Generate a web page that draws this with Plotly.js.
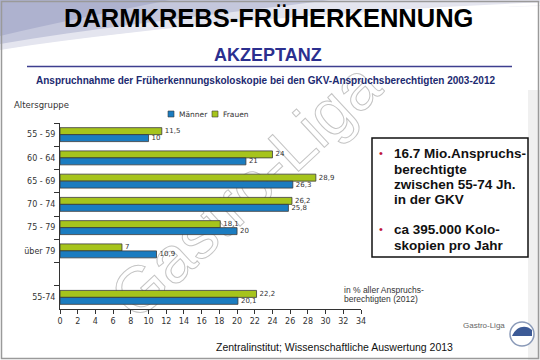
<!DOCTYPE html>
<html>
<head>
<meta charset="utf-8">
<script src="https://cdn.plot.ly/plotly-3.0.1.min.js"></script>
<style>html,body{margin:0;padding:0;background:#fff}#chart{width:540px;height:360px}</style>
</head>
<body>
<div id="chart"></div>
<script>
// ---- data ----
const categories = ['55 - 59', '60 - 64', '65 - 69', '70 - 74', '75 - 79', 'über 79', '\u00a0', '55-74'];
const frauen = [11.5, 24, 28.9, 26.2, 18.1, 7, null, 22.2];
const maenner = [10, 21, 26.3, 25.8, 20, 10.9, null, 20.1];
const seriesNames = ['Männer', 'Frauen'];
const xTicks = [0, 2, 4, 6, 8, 10, 12, 14, 16, 18, 20, 22, 24, 26, 28, 30, 32, 34];

const fmt = v => (v === null ? '' : String(v).replace('.', ','));

// ---- pixel helpers (plot area: x 60..361, y 123..309) ----
const L = 60, R = 361, T = 123, B = 309;
const px = x => (x - L) / (R - L);
const py = y => (B - y) / (B - T);

const cGreen = '#a6c41c', cBlue = '#1b7cc0', cEdge = '#3a3a3a';
const labFont = {family: 'DejaVu Sans, Verdana, sans-serif', size: 7, color: '#333'};

const traces = [
  {type: 'bar', orientation: 'h', name: seriesNames[1], y: categories, x: frauen,
   text: frauen.map(fmt), textposition: 'outside', textfont: labFont, constraintext: 'none',
   cliponaxis: false, marker: {color: cGreen, line: {color: cEdge, width: 0.8}}, hoverinfo: 'none'},
  {type: 'bar', orientation: 'h', name: seriesNames[0], y: categories, x: maenner,
   text: maenner.map(fmt), textposition: 'outside', textfont: labFont, constraintext: 'none',
   cliponaxis: false, marker: {color: cBlue, line: {color: cEdge, width: 0.8}}, hoverinfo: 'none'}
];

const A = (text, x, y, opt) => Object.assign({text, xref: 'paper', yref: 'paper', x: px(x), y: py(y),
  showarrow: false, xanchor: 'left', yanchor: 'middle'}, opt || {});
const arial = (size, color) => ({family: 'Liberation Sans, Arial, sans-serif', size, color: color || '#000'});

const boxLines = [
  ['16.7 Mio.Anspruchs-', 153, true], ['berechtigte', 169, false], ['zwischen 55-74 Jh.', 184, false],
  ['in der GKV', 199, false], ['ca 395.000 Kolo-', 229, true], ['skopien pro Jahr', 245, false]
];

const annotations = [
  A('Gastro-Liga', 245, 190, {xanchor: 'center', textangle: -43,
    font: {family: 'Liberation Sans, Arial, sans-serif', size: 65, color: 'rgba(170,170,170,0.35)'}}),
  A('<b>DARMKREBS-FRÜHERKENNUNG</b>', 268, 18, {xanchor: 'center', font: arial(25.5, '#000')}),
  A('<b>AKZEPTANZ</b>', 268, 55, {xanchor: 'center', font: arial(18, '#2b2f8f')}),
  A('<b>Anspruchnahme der Früherkennungskoloskopie bei den GKV-Anspruchsberechtigten 2003-2012</b>', 265, 80,
    {xanchor: 'center', font: arial(10, '#1c2a70')}),
  A('Altersgruppe', 12, 105, {font: {family: 'DejaVu Sans, Verdana, sans-serif', size: 8.5, color: '#333'}}),
  A(seriesNames[0], 177, 114, {font: {family: 'DejaVu Sans, Verdana, sans-serif', size: 7.5, color: '#333'}}),
  A(seriesNames[1], 221, 114, {font: {family: 'DejaVu Sans, Verdana, sans-serif', size: 7.5, color: '#333'}}),
  A('in % aller Anspruchs-', 342, 290, {font: arial(8.5, '#333')}),
  A('berechtigten (2012)', 342, 299, {font: arial(8.5, '#333')}),
  A('Zentralinstitut; Wissenschaftliche Auswertung 2013', 334, 347, {xanchor: 'center', font: arial(10.5, '#111')}),
  A('Gastro-Liga', 484, 325, {xanchor: 'center', font: arial(8, '#666')})
];
boxLines.forEach(([t, y, bullet]) => {
  annotations.push(A('<b>' + t + '</b>', 392, y, {font: arial(13.5, '#111')}));
  if (bullet) annotations.push(A('•', 377, y, {font: arial(11, '#c0143c')}));
});

const P = (d, opt) => Object.assign({type: 'path', xref: 'paper', yref: 'paper', path: d, layer: 'below'}, opt);
const pt = (x, y) => px(x) + ',' + py(y);

const shapes = [
  // header swoosh
  P('M' + pt(0, 0) + ' L' + pt(540, 0) + ' L' + pt(540, 6) + ' C' + pt(400, 8) + ' ' + pt(180, 22) + ' ' + pt(0, 50) + ' Z',
    {fillcolor: '#e4e5ef', line: {width: 0}}),
  P('M' + pt(0, 0) + ' L' + pt(330, 0) + ' C' + pt(240, 12) + ' ' + pt(120, 24) + ' ' + pt(0, 44) + ' Z',
    {fillcolor: '#c4c7dc', line: {width: 0}}),
  P('M' + pt(0, 0) + ' L' + pt(170, 0) + ' C' + pt(110, 12) + ' ' + pt(50, 24) + ' ' + pt(0, 36) + ' Z',
    {fillcolor: '#aeb2cf', line: {width: 0}}),
  P('M' + pt(0, 52) + ' C' + pt(150, 28) + ' ' + pt(380, 10) + ' ' + pt(540, 4),
    {line: {color: '#ffffff', width: 3}}),
  // right gray strip
  {type: 'rect', xref: 'paper', yref: 'paper', x0: px(528), x1: px(540), y0: py(90), y1: py(360),
   fillcolor: '#f0f0f0', line: {width: 0}, layer: 'below'},
  // underline below AKZEPTANZ
  {type: 'line', xref: 'paper', yref: 'paper', x0: px(27), x1: px(512), y0: py(66.5), y1: py(66.5),
   line: {color: '#3d3f8f', width: 1.5}},
  // slide frame
  {type: 'rect', xref: 'paper', yref: 'paper', x0: px(1.5), x1: px(538.5), y0: py(1.5), y1: py(358.5),
   line: {color: '#9a9a9a', width: 1.5}},
  // text box
  {type: 'rect', xref: 'paper', yref: 'paper', x0: px(372), x1: px(528), y0: py(138), y1: py(257),
   fillcolor: '#ffffff', line: {color: '#111', width: 1.5}},
  // manual legend squares
  {type: 'rect', xref: 'paper', yref: 'paper', x0: px(168), x1: px(174), y0: py(111), y1: py(117),
   fillcolor: cBlue, line: {color: cEdge, width: 0.6}},
  {type: 'rect', xref: 'paper', yref: 'paper', x0: px(212), x1: px(218), y0: py(111), y1: py(117),
   fillcolor: cGreen, line: {color: cEdge, width: 0.6}},
  // logo circle
  {type: 'circle', xref: 'paper', yref: 'paper', x0: px(510), x1: px(534), y0: py(322), y1: py(346),
   fillcolor: '#ffffff', line: {color: '#8a9ab8', width: 1.5}},
  P('M' + pt(512, 336) + ' C' + pt(516, 326) + ' ' + pt(526, 324) + ' ' + pt(532, 330) + ' L' + pt(532, 336) + ' Z',
    {fillcolor: '#3c5a96', line: {width: 0}, layer: 'above'})
];

const layout = {
  width: 540, height: 360,
  margin: {l: L, r: 540 - R, t: T, b: 360 - B, pad: 0},
  paper_bgcolor: '#ffffff', plot_bgcolor: 'rgba(0,0,0,0)',
  barmode: 'group', bargap: 0.4, bargroupgap: 0,
  showlegend: false,
  font: {family: 'DejaVu Sans, Verdana, sans-serif', size: 8, color: '#333'},
  xaxis: {range: [0, 34], tickvals: xTicks, ticktext: xTicks.map(String), ticks: 'outside', ticklen: 4,
    tickcolor: '#333', showline: true, linecolor: '#333', linewidth: 1, showgrid: false, zeroline: false,
    tickfont: {family: 'DejaVu Sans, Verdana, sans-serif', size: 8, color: '#333'}, fixedrange: true},
  yaxis: {type: 'category', categoryorder: 'array', categoryarray: categories, range: [7.5, -0.5],
    tickson: 'boundaries', ticks: 'outside', ticklen: 5, tickcolor: '#333', showline: true,
    linecolor: '#333', linewidth: 1, showgrid: false, zeroline: false, ticklabelstandoff: 2,
    tickfont: {family: 'DejaVu Sans, Verdana, sans-serif', size: 8, color: '#333'}, fixedrange: true},
  annotations, shapes
};

Plotly.newPlot('chart', traces, layout, {staticPlot: true, displayModeBar: false}).then(gd => {
  // render the watermark as thin outlined letters behind the bars, as in the original slide
  const grp = gd.querySelector('.annotation[data-index="0"]');
  const wm = grp && grp.querySelector('text.annotation-text');
  if (wm) {
    wm.style.fill = 'none';
    wm.style.stroke = '#c4c4c4';
    wm.style.strokeWidth = '1px';
    const below = gd.querySelector('.main-svg .layer-below');
    if (below) below.appendChild(grp);
  }
});
</script>
</body>
</html>
